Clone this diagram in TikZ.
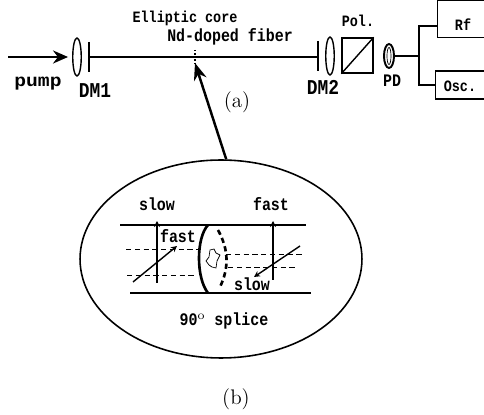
\documentclass[tikz,border=0pt]{standalone}
\usepackage{fontspec}
\setmonofont[FakeStretch=0.85]{Liberation Mono}
\newfontfamily\widefont[FakeStretch=1.12]{Liberation Mono}
\usepackage{tikz}
\usetikzlibrary{positioning, arrows.meta, shapes.geometric}
\tikzset{
    x=0.02cm, y=-0.02cm,
    lens/.style={draw, ellipse, thick, inner sep=0, minimum width=0.17cm, minimum height=0.76cm},
    box/.style={draw, thick, inner sep=0},
    mirror/.style={line width=1.1pt},
    fiber/.style={line width=1.1pt},
    guide/.style={densely dashed, thin},
    lbl/.style={font=\ttfamily\bfseries\small, inner sep=0},
    lblbig/.style={font=\ttfamily\bfseries\normalsize, inner sep=0},
    axis/.style={thick, -{Stealth[length=1.2mm, width=1.2mm]}},
    beam/.style={line width=1.4pt, -{Stealth[length=3mm, width=2.6mm]}},
    big beam/.style={line width=1.4pt, -{Stealth[length=3.4mm, width=2.6mm]}},
}
\begin{document}
\begin{tikzpicture}
    \useasboundingbox (0,0) rectangle (484,415);
    % top row
    \coordinate (pumpin) at (8,57);
    \node[lens] (dm1) at (77,57) {};
    \coordinate (m1top) at (89,42);
    \coordinate (m1bot) at (89,72);
    \coordinate (m1mid) at (89,57);
    \coordinate (m2top) at (318,41);
    \coordinate (m2bot) at (318,71);
    \coordinate (m2mid) at (318,57);
    \node[lens] (dm2) at (330,56) {};
    \node[box, minimum width=0.62cm, minimum height=0.70cm] (pol) at (357.5,55.5) {};
    \node[draw, ellipse, line width=1.1pt, inner sep=0, minimum width=0.2cm, minimum height=0.48cm] (pd) at (389,56) {};
    \node[draw, ellipse, thin, inner sep=0, minimum width=0.08cm, minimum height=0.34cm] (pdcore) at (389,56) {};
    \node[box, minimum width=0.94cm, minimum height=0.74cm] (rf) at (461,19) {};
    \node[box, minimum width=0.98cm, minimum height=0.56cm] (osc) at (460,85) {};
    \node[lbl] (rflbl) at (463,25) {Rf};
    \node[lbl] (osclbl) at (460,86) {Osc.};
    \coordinate (fork) at (419,56);
    \coordinate (rfin) at (437,26);
    \coordinate (splicetop) at (195,50);
    \coordinate (splicebot) at (195,63);
    \draw[beam, shorten >=0.08cm] (pumpin) -- (dm1);
    \draw[mirror] (m1top) -- (m1bot);
    \draw[mirror] (m2top) -- (m2bot);
    \draw[fiber] (m1mid) -- (m2mid);
    \draw[densely dotted, thick] (splicetop) -- (splicebot);
    \draw[thick] (pol.south west) -- (pol.north east);
    \draw[thick] (pd) -- (fork);
    \draw[thick] (fork) |- (rfin);
    \draw[thick] (fork) |- (osc);
    \node[lbl, font=\widefont\bfseries\normalsize] (pump) at (38,84) {pump};
    \node[lblbig, font=\ttfamily\bfseries\large] (dmone) at (95,91) {DM1};
    \node[lblbig, font=\ttfamily\bfseries\large] (dmtwo) at (323,87) {DM2};
    \node[lblbig] (pdlbl) at (392,81) {PD};
    \node[lbl] (pollbl) at (358,21) {Pol.};
    \node[lbl] (core) at (185,18) {Elliptic core};
    \node[lblbig] (doped) at (230,37) {Nd-doped fiber};
    \node[font=\large, inner sep=0] (a) at (237,102) {(a)};
    % inset
    \node[draw, ellipse, line width=0.9pt, minimum width=5.64cm, minimum height=3.96cm, inner sep=0] (inset) at (221,259) {};
    \draw[big beam] (inset.87) -- (splicebot);
    \coordinate (ltopa) at (120,225);
    \coordinate (ltopb) at (306,225);
    \coordinate (lbota) at (130,293);
    \coordinate (lbotb) at (311,293);
    \draw[thick] (ltopa) -- (ltopb);
    \draw[thick] (lbota) -- (lbotb);
    \draw[guide] (126,249) -- (198,249);
    \draw[guide] (127,275) -- (197,275);
    \draw[guide] (226,254) -- (303,254);
    \draw[guide] (228,267) -- (296,267);
    \coordinate (cuta) at (208,225);
    \coordinate (cutb) at (208,293);
    \draw[line width=1.5pt] (cuta) .. controls (196,238) and (196,278) .. (cutb);
    \draw[line width=1.5pt, densely dashed] (218,230) .. controls (229,250) and (229,268) .. (220,287);
    \draw[thin] (210,250) -- (214,249) -- (216,253) -- (220,255) -- (217,261) -- (216,268) -- (212,267) -- (209,265) -- (206,261) -- (209,257) -- cycle;
    \draw[axis] (157,283) -- (157,221);
    \draw[axis] (133,282) -- (177,246);
    \draw[axis] (273,280) -- (273,221);
    \draw[axis] (300,246) -- (254,277);
    \node[lblbig] (slowl) at (157,204) {slow};
    \node[lblbig] (fastl) at (178,236) {fast};
    \node[lblbig] (fastr) at (271,204) {fast};
    \node[lblbig] (slowr) at (252,284) {slow};
    \node[lblbig] (splice) at (224,321) {90$^{\mathrm{o}}$ splice};
    \node[font=\large, inner sep=0] (b) at (236,399) {(b)};
\end{tikzpicture}
\end{document}
